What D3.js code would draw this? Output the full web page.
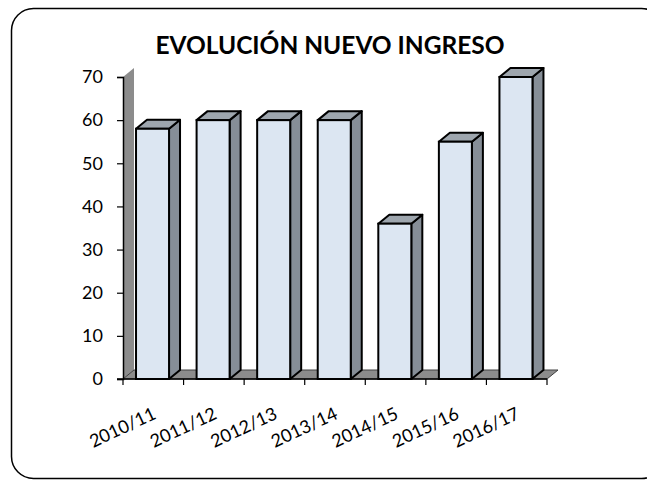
<!DOCTYPE html>
<html>
<head>
<meta charset="utf-8">
<script src="https://cdn.jsdelivr.net/npm/d3@7"></script>
<style>
html,body{margin:0;padding:0;background:#fff;overflow:hidden;}
svg{display:block;}
text{font-family:Lato,"Open Sans",sans-serif;fill:#000;}
</style>
</head>
<body>
<svg id="chart" width="647" height="480"></svg>
<script>
const categories = ["2010/11","2011/12","2012/13","2013/14","2014/15","2015/16","2016/17"];
const values = [58, 60, 60, 60, 36, 55, 70];
const yTicks = [0,10,20,30,40,50,60,70];
const title = "EVOLUCIÓN NUEVO INGRESO";

const svg = d3.select("#chart");
const dx = 11, dy = -9;

// border
svg.append("rect").attr("x",11.5).attr("y",8.5).attr("width",652).attr("height",470)
  .attr("rx",22).attr("ry",22).attr("fill","#fff").attr("stroke","#000").attr("stroke-width",1.5);

const x = d3.scaleBand().domain(categories).range([123,547]).padding(0);
const y = d3.scaleLinear().domain([0,70]).range([379,77]);
const bw = x.bandwidth();

const x0 = x.range()[0], x1 = x.range()[1], y0 = y(0);

// left wall
svg.append("path")
  .attr("d", `M${x0},${y(70)} L${x0+dx},${y(70)+dy} L${x0+dx},${y0+dy} L${x0},${y0} Z`)
  .attr("fill","#8c8c8c").attr("stroke","none");

// floor
svg.append("path")
  .attr("d", `M${x0},${y0} L${x1},${y0} L${x1+dx},${y0+dy} L${x0+dx},${y0+dy} Z`)
  .attr("fill","#8c8c8c").attr("stroke","#404040").attr("stroke-width",1);

// bars
const g = svg.append("g");
categories.forEach((c,i)=>{
  const v = values[i];
  const l = x(c) + bw*0.215, r = l + bw*0.545;
  const t = y(v), b = y0;
  g.append("path").attr("d", `M${r},${t} L${r+dx},${t+dy} L${r+dx},${b+dy} L${r},${b} Z`)
    .attr("fill","#868e97").attr("stroke","#000").attr("stroke-width",2).attr("stroke-linejoin","round");
  g.append("path").attr("d", `M${l},${t} L${l+dx},${t+dy} L${r+dx},${t+dy} L${r},${t} Z`)
    .attr("fill","#9ea6ae").attr("stroke","#000").attr("stroke-width",2).attr("stroke-linejoin","round");
  g.append("rect").attr("x",l).attr("y",t).attr("width",r-l).attr("height",b-t)
    .attr("fill","#dce6f2").attr("stroke","#000").attr("stroke-width",2);
});

// y axis
const yAxis = d3.axisLeft(y).tickValues(yTicks).tickSize(6).tickPadding(14);
const ya = svg.append("g").attr("transform",`translate(${x0},0)`).call(yAxis);
ya.select(".domain").attr("stroke","#000").attr("stroke-width",1.5);
ya.selectAll(".tick line").attr("stroke","#000").attr("stroke-width",1.2);
ya.selectAll(".tick text").style("font-size","18px").style("font-family","Lato, 'Open Sans', sans-serif").attr("fill","#000");

// x axis line and ticks
svg.append("line").attr("x1",x0-6).attr("x2",x1).attr("y1",y0).attr("y2",y0)
  .attr("stroke","#000").attr("stroke-width",1.5);
const bounds = categories.map(c=>x(c)).concat([x1]);
svg.selectAll(".xt").data(bounds).enter().append("line")
  .attr("x1",d=>d).attr("x2",d=>d).attr("y1",y0).attr("y2",y0+6)
  .attr("stroke","#000").attr("stroke-width",1.2);

// x labels
svg.selectAll(".xl").data(categories).enter().append("text")
  .attr("transform",c=>`translate(${x(c)+bw/2+4},${y0+39}) rotate(-25)`)
  .attr("text-anchor","end")
  .style("font-size","18px")
  .text(c=>c);

// title
svg.append("text").attr("x",330).attr("y",54).attr("text-anchor","middle")
  .style("font-size","24.5px").style("font-weight","bold").text(title);
</script>
</body>
</html>
